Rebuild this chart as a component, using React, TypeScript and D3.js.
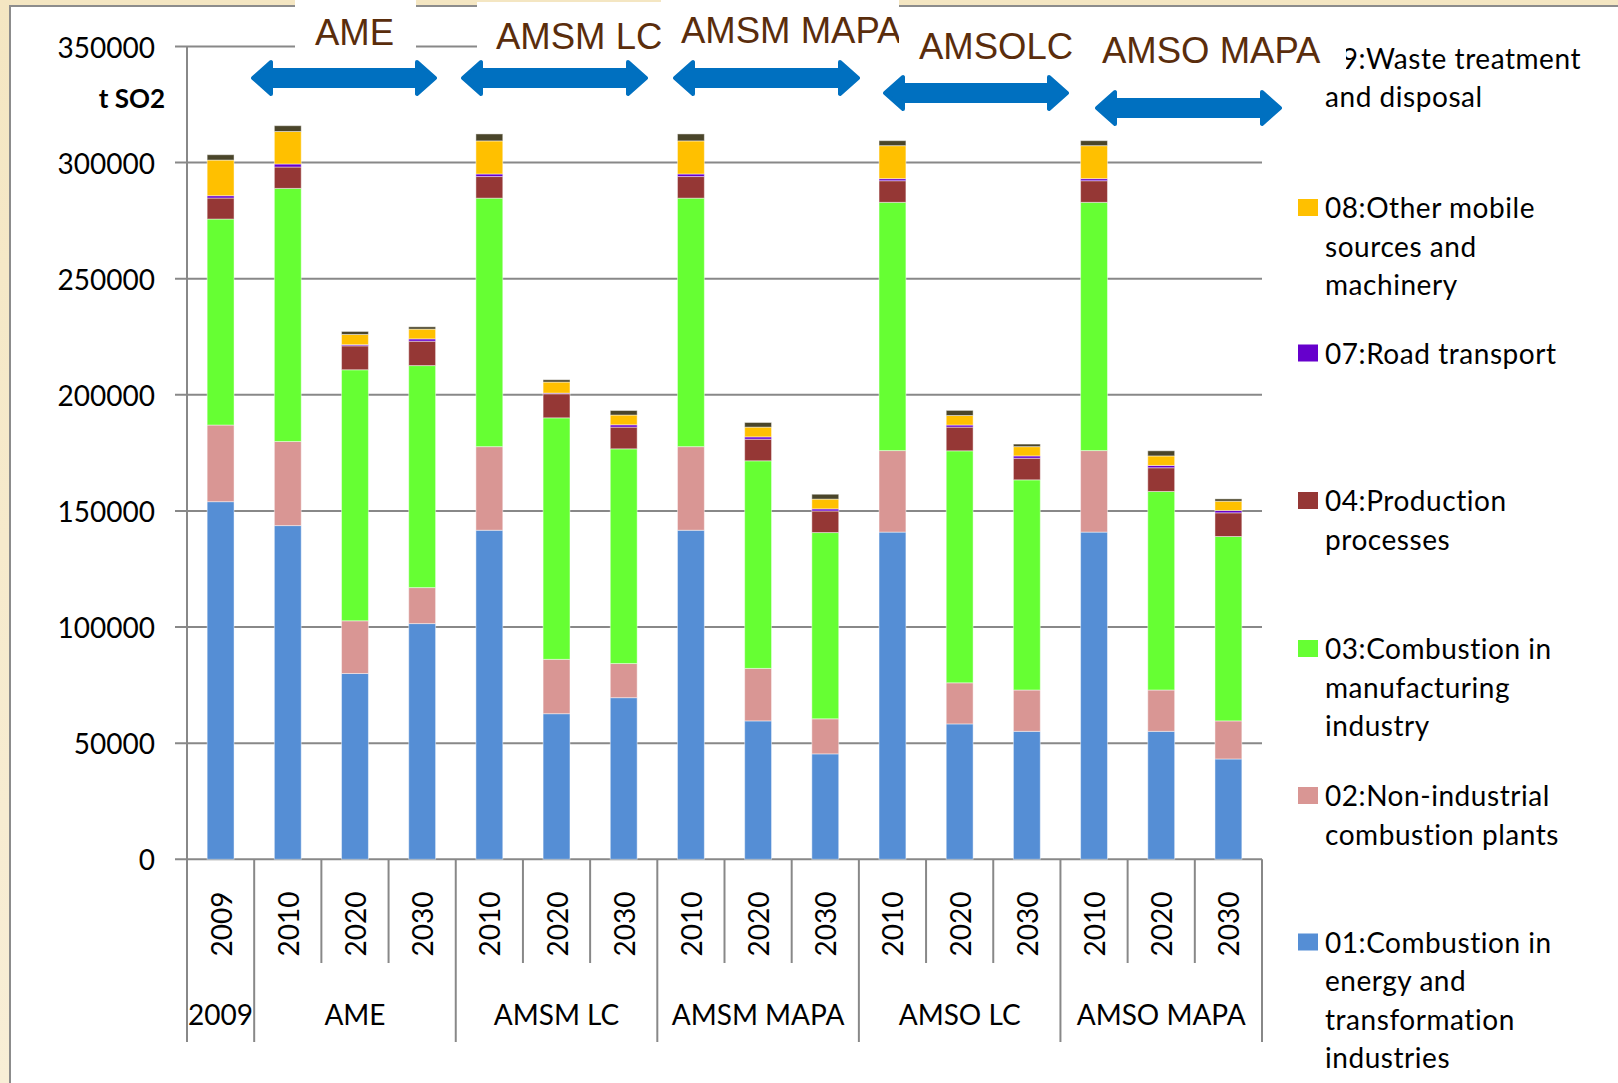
import { useMemo } from "react";
import * as d3 from "d3";

// categories (lower level = year, upper level = scenario group)
const years = ["2009", "2010", "2020", "2030", "2010", "2020", "2030", "2010", "2020", "2030", "2010", "2020", "2030", "2010", "2020", "2030"];
const groups = ["2009", "AME", "AMSM LC", "AMSM MAPA", "AMSO LC", "AMSO MAPA"];
const groupSpans = [1, 3, 3, 3, 3, 3];

// t SO2 per sector
const s01 = [154000, 143700, 80000, 101500, 141700, 62700, 69600, 141700, 59600, 45400, 140900, 58300, 55100, 140900, 55100, 43200];
const s02 = [33000, 36200, 22700, 15500, 36000, 23400, 14700, 36000, 22600, 15100, 35100, 17700, 17800, 35100, 17800, 16400];
const s03 = [88700, 109000, 108100, 95600, 107000, 104000, 92450, 107000, 89400, 80200, 106900, 99900, 90500, 106900, 85500, 79400];
const s04 = [9050, 9200, 10300, 10500, 9300, 10350, 9350, 9300, 9300, 9300, 9300, 10200, 9300, 9300, 10200, 10200];
const s07 = [1000, 1300, 500, 1000, 1100, 300, 1000, 1100, 1000, 900, 900, 900, 1000, 900, 1000, 1000];
const s08 = [15350, 14000, 4400, 4200, 14250, 4750, 4200, 14250, 4200, 4200, 14200, 4100, 4000, 14200, 4100, 4000];
const s09 = [2300, 2500, 1300, 1000, 3000, 1000, 1950, 3000, 2000, 2100, 2150, 2200, 1100, 2150, 2200, 1000];

const yTicks = [0, 50000, 100000, 150000, 200000, 250000, 300000, 350000];
const yTitle = "t SO2";

const seriesKeys = ["s01", "s02", "s03", "s04", "s07", "s08", "s09"];
const seriesValues = [s01, s02, s03, s04, s07, s08, s09];
const seriesColors = ["#558ED5", "#D99694", "#66FF33", "#953735", "#6600CC", "#FFC000", "#4A452A"];

// legend, top to bottom
const legendKeys = ["s09", "s08", "s07", "s04", "s03", "s02", "s01"];
const legendLines = [
  ["09:Waste treatment", "and disposal"],
  ["08:Other mobile", "sources and", "machinery"],
  ["07:Road transport"],
  ["04:Production", "processes"],
  ["03:Combustion in", "manufacturing", "industry"],
  ["02:Non-industrial", "combustion plants"],
  ["01:Combustion in", "energy and", "transformation", "industries"],
];

// scenario annotations on top
const topLabels = ["AME", "AMSM LC", "AMSM MAPA", "AMSOLC", "AMSO MAPA"];

// ---- layout ----
const W = 1618;
const H = 1083;
const PLOT = { left: 187, right: 1262, top: 46.5, bottom: 859.3 };
const LEGEND_BASE = [68.5, 218, 363.5, 511, 659, 806, 952.5];
const LEGEND_LH = 38.5;
const TOP_BOX = [
  [295, 0, 416, 60],
  [477, 2, 661, 62],
  [661, 0, 899, 60],
  [899, 8, 1090, 78],
  [1090, 8, 1346, 84],
];
const TOP_TEXT = [
  [315, 45],
  [496, 48.5],
  [681, 43.3],
  [919, 58.5],
  [1102, 63],
];
const ARROWS = [
  [251, 437, 78],
  [461, 648, 78],
  [673, 860, 78],
  [883, 1069, 93],
  [1095, 1282, 108],
];

function arrowPath(x0: number, x1: number, cy: number) {
  const i = 2; // inset for round stroke
  const a = x0 + i, b = x1 - i;
  const hl = 18, hh = 16, st = 8;
  return `M${a},${cy} L${a + hl},${cy - hh} L${a + hl},${cy - st} L${b - hl},${cy - st} L${b - hl},${cy - hh} L${b},${cy} L${b - hl},${cy + hh} L${b - hl},${cy + st} L${a + hl},${cy + st} L${a + hl},${cy + hh} Z`;
}

export default function App() {
  const rows = useMemo(
    () =>
      years.map((yr, i) => {
        const r: Record<string, number | string> = { id: String(i), year: yr };
        seriesKeys.forEach((k, j) => (r[k] = seriesValues[j][i]));
        return r;
      }),
    []
  );

  const stacked = useMemo(() => d3.stack<any>().keys(seriesKeys)(rows), [rows]);

  const x = d3
    .scaleBand()
    .domain(rows.map((r) => r.id as string))
    .range([PLOT.left, PLOT.right])
    .paddingInner(0.6)
    .paddingOuter(0.3);
  const edge = d3.scaleLinear().domain([0, years.length]).range([PLOT.left, PLOT.right]);
  const y = d3.scaleLinear().domain([0, 350000]).range([PLOT.bottom, PLOT.top]);
  const color = d3.scaleOrdinal<string, string>().domain(seriesKeys).range(seriesColors);

  const grid = "#888888";
  const font = "Lato, 'Open Sans', sans-serif";

  // group boundaries
  const groupStarts: number[] = [];
  groupSpans.reduce((acc, s) => {
    groupStarts.push(acc);
    return acc + s;
  }, 0);
  const groupEdges = new Set([...groupStarts, years.length]);

  return (
    <div style={{ position: "absolute", left: 0, top: 0 }}>
      <svg width={W} height={H} style={{ display: "block" }}>
        <defs>
          <linearGradient id="bg" x1="0" y1="0" x2="0" y2="1">
            <stop offset="0" stopColor="#F4E6C2" />
            <stop offset="1" stopColor="#F8EED6" />
          </linearGradient>
        </defs>
        <rect x={0} y={0} width={W} height={H} fill="url(#bg)" />
        <rect x={10} y={6} width={W} height={H} fill="#fff" stroke="#8C8C8C" strokeWidth={2} />

        {/* gridlines + y ticks */}
        {yTicks.map((t) => (
          <g key={t}>
            <line x1={175} x2={PLOT.right} y1={y(t)} y2={y(t)} stroke={grid} strokeWidth={2} />
            <text
              x={155}
              y={y(t)}
              textAnchor="end"
              dominantBaseline="central"
              fontFamily={font}
              fontSize={28}
              fill="#000"
            >
              {t}
            </text>
          </g>
        ))}
        <text x={165} y={108} textAnchor="end" fontFamily={font} fontWeight="bold" fontSize={26} fill="#000">
          {yTitle}
        </text>

        {/* stacked bars */}
        {stacked.map((layer) => (
          <g key={layer.key} fill={color(layer.key)}>
            {layer.map((d) => (
              <rect
                key={d.data.id}
                x={x(d.data.id)}
                width={x.bandwidth()}
                y={y(d[1])}
                height={Math.max(0, y(d[0]) - y(d[1]))}
                stroke="#ffffff"
                strokeOpacity={0.45}
                strokeWidth={1}
              />
            ))}
          </g>
        ))}

        {/* axes */}
        <line x1={PLOT.left} x2={PLOT.left} y1={PLOT.top} y2={PLOT.bottom} stroke={grid} strokeWidth={2} />
        {d3.range(years.length + 1).map((i) => (
          <line
            key={i}
            x1={edge(i)}
            x2={edge(i)}
            y1={PLOT.bottom}
            y2={groupEdges.has(i) ? 1042 : 963}
            stroke={grid}
            strokeWidth={2}
          />
        ))}
        {years.map((yr, i) => (
          <text
            key={i}
            transform={`translate(${(x(String(i)) as number) + x.bandwidth() / 2},924) rotate(-90)`}
            textAnchor="middle"
            dominantBaseline="central"
            fontFamily={font}
            fontSize={28}
            fill="#000"
          >
            {yr}
          </text>
        ))}
        {groups.map((g, i) => (
          <text
            key={g}
            x={(edge(groupStarts[i]) + edge(groupStarts[i] + groupSpans[i])) / 2}
            y={1014}
            textAnchor="middle"
            dominantBaseline="central"
            fontFamily={font}
            fontSize={28}
            fill="#000"
          >
            {g}
          </text>
        ))}

        {/* legend */}
        {legendKeys.map((k, i) => (
          <g key={k}>
            <rect x={1298} y={LEGEND_BASE[i] - 19} width={20} height={17} fill={color(k)} />
            {legendLines[i].map((ln, j) => (
              <text
                key={j}
                x={1325}
                y={LEGEND_BASE[i] + j * LEGEND_LH}
                fontFamily={font}
                fontSize={28}
                letterSpacing={0.55}
                fill="#000"
              >
                {ln}
              </text>
            ))}
          </g>
        ))}

        {/* scenario annotations */}
        {topLabels.map((lab, i) => (
          <g key={lab}>
            <rect
              x={TOP_BOX[i][0]}
              y={TOP_BOX[i][1]}
              width={TOP_BOX[i][2] - TOP_BOX[i][0]}
              height={TOP_BOX[i][3] - TOP_BOX[i][1]}
              fill="#fff"
            />
            <text
              x={TOP_TEXT[i][0]}
              y={TOP_TEXT[i][1]}
              fontFamily="'Liberation Sans', Arial, sans-serif"
              fontSize={36.5}
              fill="#5A2D0C"
            >
              {lab}
            </text>
          </g>
        ))}
        {ARROWS.map(([x0, x1, cy], i) => (
          <path
            key={i}
            d={arrowPath(x0, x1, cy)}
            fill="#0070C0"
            stroke="#0070C0"
            strokeWidth={4}
            strokeLinejoin="round"
          />
        ))}
      </svg>
    </div>
  );
}
